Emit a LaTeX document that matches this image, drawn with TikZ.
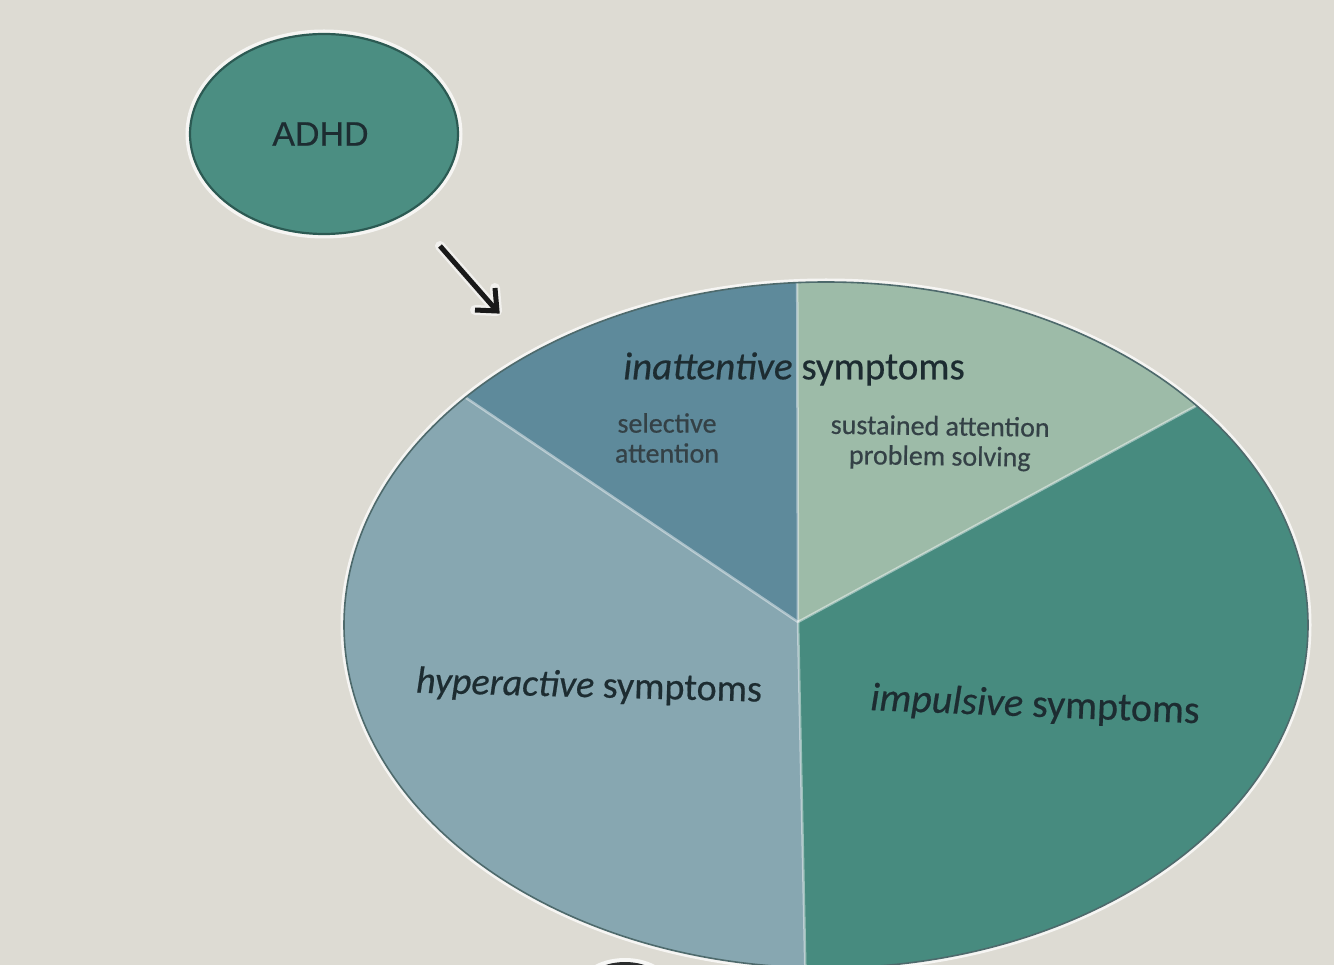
\documentclass[tikz,border=0pt]{standalone}
\usepackage{fontspec}
\setmainfont{Carlito}
\newfontfamily\lblfont{Carlito}[FakeBold=0.5]
\newfontfamily\arialfont{Liberation Sans}[FakeBold=0.4]
\usetikzlibrary{arrows.meta,shapes.geometric}
\definecolor{bg}{HTML}{DDDBD3}
\definecolor{adhdfill}{HTML}{4B8E82}
\definecolor{adhdedge}{HTML}{2C5A53}
\definecolor{selc}{HTML}{5E8A9B}
\definecolor{susc}{HTML}{9DBBA8}
\definecolor{hypc}{HTML}{87A7B1}
\definecolor{impc}{HTML}{478B7F}
\definecolor{txtc}{HTML}{1D2C31}
\definecolor{rimc}{HTML}{4E6A6C}
\definecolor{blobc}{HTML}{2A2C2C}
\tikzset{
  biglabel/.style={text=txtc, inner sep=0pt, font=\lblfont\fontsize{38}{38}\selectfont},
  smalllabel/.style={text=txtc!90!white, inner sep=0pt, align=center, font=\lblfont\fontsize{28}{30}\selectfont},
  divider/.style={draw=white, draw opacity=0.45, line width=2.5},
  halo/.style={draw=white, draw opacity=0.75, line width=7},
  arrowline/.style={draw=black!90, line width=5, miter limit=10}
}
\begin{document}
\begin{tikzpicture}[x=1pt,y=-1pt]
\useasboundingbox (0,0) rectangle (1334,965);
\fill[bg] (0,0) rectangle (1334,965);

% partial shape at the bottom edge
\begin{scope}
\clip (0,0) rectangle (1334,965);
\fill[white!80!bg] (625,990) ellipse [x radius=48, y radius=32];
\fill[blobc] (625,990) ellipse [x radius=43, y radius=28];
\end{scope}

% ADHD node
\draw[halo] (324,134) ellipse [x radius=135, y radius=101];
\node[ellipse, draw=adhdedge, line width=2.2, fill=adhdfill,
      minimum width=268, minimum height=200, text=txtc,
      font={\arialfont\fontsize{34}{34}\selectfont}] (adhd) at (324,134) {\hspace*{-7pt}ADHD};

% arrow
\coordinate (arrA) at (440,246);
\coordinate (arrB) at (497,311);
\coordinate (barbU) at (495,288);
\coordinate (barbL) at (475,310);
\draw[white, opacity=0.6, line width=10, line cap=round, line join=round] (arrA) -- (arrB) (barbU) -- (arrB) -- (barbL);
\draw[arrowline] (arrA) -- (arrB);
\draw[arrowline] (barbU) -- (arrB) -- (barbL);

% pie chart
\coordinate (pc) at (798,622);
\draw[halo] (826,625) ellipse [x radius=482, y radius=343];
\begin{scope}
\clip (826,625) ellipse [x radius=482, y radius=343];
\fill[hypc] (300,250) rectangle (1334,1000);
\fill[impc] (pc) -- (806,1000) -- (1450,1000) -- (1450,268) -- cycle;
\fill[susc] (pc) -- (1450,268) -- (1450,200) -- (797,200) -- cycle;
\fill[selc] (pc) -- (797,200) -- (173,200) -- cycle;
\draw[divider] (pc) -- (806,1000);
\draw[divider] (pc) -- (1450,268);
\draw[divider] (pc) -- (797,200);
\draw[divider] (pc) -- (173,200);
\end{scope}
\draw[rimc, line width=1.6] (826,625) ellipse [x radius=482, y radius=343];

% labels
\node[biglabel, font=\lblfont\fontsize{39}{39}\selectfont] (inatt) at (794,369) {\textit{inattentive} symptoms};
\node[smalllabel] (sel) at (667,438) {selective\\attention};
\node[smalllabel, rotate=-0.8] (sus) at (940,443) {sustained attention\\problem solving};
\node[biglabel, rotate=-1.5] (hyp) at (589,687) {\textit{hyperactive} symptoms};
\node[biglabel, rotate=-2.3, font=\lblfont\fontsize{40}{40}\selectfont] (imp) at (1035,706) {\textit{impulsive} symptoms};
\end{tikzpicture}
\end{document}
